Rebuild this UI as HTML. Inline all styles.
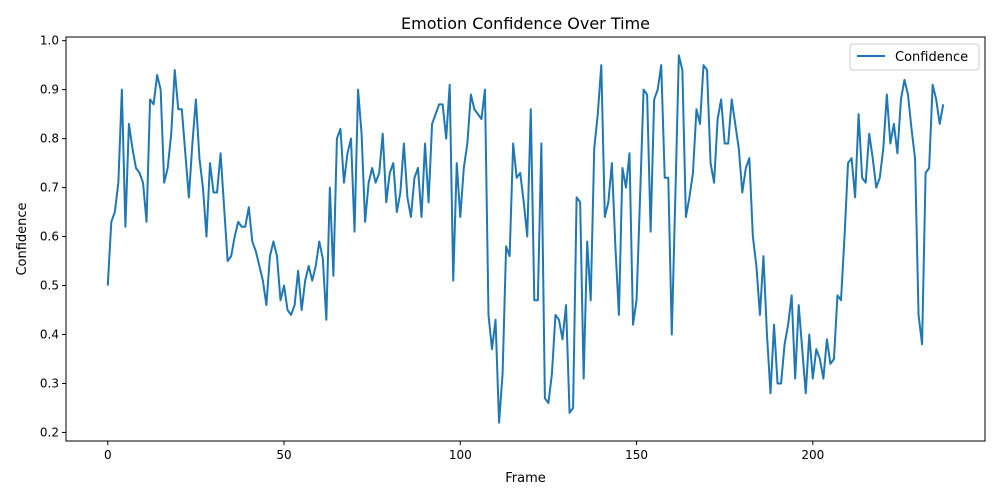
<!DOCTYPE html>
<html><head><meta charset="utf-8"><style>
body{margin:0;background:#fff}
svg{display:block;font-family:"DejaVu Sans","Liberation Sans",sans-serif}
</style></head><body>
<svg id="chart" width="1000" height="500" viewBox="0 0 1000 500">
<rect x="0" y="0" width="1000" height="500" fill="#fff"/>
<text x="525.5" y="29" text-anchor="middle" font-size="16">Emotion Confidence Over Time</text>
<g id="ticks"></g>
<path id="line" fill="none" stroke="#1f77b4" stroke-width="2" stroke-linejoin="round"/>
<rect x="66" y="37" width="919" height="404" fill="none" stroke="#000" stroke-width="1"/>
<text x="525.5" y="482" text-anchor="middle" font-size="13">Frame</text>
<text transform="translate(26,239) rotate(-90)" text-anchor="middle" font-size="13">Confidence</text>
<g>
<rect x="850" y="44" width="129" height="26" rx="3" fill="#fff" stroke="#ccc"/>
<line x1="857" y1="56" x2="885" y2="56" stroke="#1f77b4" stroke-width="2"/>
<text x="895" y="61" font-size="13">Confidence</text>
</g>
</svg>
<script>
const values = [0.50,0.63,0.65,0.71,0.90,0.62,0.83,0.78,0.74,0.73,0.71,0.63,0.88,0.87,0.93,0.90,0.71,0.74,0.81,0.94,
0.86,0.86,0.77,0.68,0.79,0.88,0.76,0.70,0.60,0.75,0.69,0.69,0.77,0.66,0.55,0.56,0.60,0.63,0.62,0.62,
0.66,0.59,0.57,0.54,0.51,0.46,0.56,0.59,0.56,0.47,0.50,0.45,0.44,0.46,0.53,0.45,0.51,0.54,0.51,0.54,
0.59,0.555,0.43,0.70,0.52,0.80,0.82,0.71,0.77,0.80,0.61,0.90,0.81,0.63,0.71,0.74,0.71,0.73,0.81,0.67,
0.73,0.75,0.65,0.69,0.79,0.68,0.64,0.72,0.74,0.64,0.79,0.67,0.83,0.85,0.87,0.87,0.80,0.91,0.51,0.75,
0.64,0.74,0.79,0.89,0.86,0.85,0.84,0.90,0.44,0.37,0.43,0.22,0.32,0.58,0.56,0.79,0.72,0.73,0.67,0.60,
0.86,0.47,0.47,0.79,0.27,0.26,0.32,0.44,0.43,0.39,0.46,0.24,0.25,0.68,0.67,0.31,0.59,0.47,0.78,0.85,
0.95,0.64,0.67,0.75,0.58,0.44,0.74,0.70,0.77,0.42,0.47,0.68,0.90,0.89,0.61,0.88,0.90,0.95,0.72,0.72,
0.40,0.68,0.97,0.94,0.64,0.68,0.73,0.86,0.83,0.95,0.94,0.75,0.71,0.84,0.88,0.79,0.79,0.88,0.83,0.78,
0.69,0.74,0.76,0.60,0.54,0.44,0.56,0.40,0.28,0.42,0.30,0.30,0.38,0.42,0.48,0.31,0.46,0.37,0.28,0.40,
0.31,0.37,0.35,0.31,0.39,0.34,0.35,0.48,0.47,0.60,0.75,0.76,0.68,0.85,0.72,0.71,0.81,0.76,0.70,0.72,
0.78,0.89,0.79,0.83,0.77,0.88,0.92,0.89,0.82,0.76,0.44,0.38,0.73,0.74,0.91,0.88,0.83,0.87];
const xTicks = [0,50,100,150,200];
const yTicks = [0.2,0.3,0.4,0.5,0.6,0.7,0.8,0.9,1.0];
const yTickLabels = ["0.2","0.3","0.4","0.5","0.6","0.7","0.8","0.9","1.0"];

const L=66,R=985,T=37,B=441;
const n=values.length-1;
const xMin=-0.05*n, xMax=n*1.05;
const vMin=Math.min(...values), vMax=Math.max(...values), pad=(vMax-vMin)*0.05;
const yMin=vMin-pad, yMax=vMax+pad;
const xs=v=>L+(v-xMin)/(xMax-xMin)*(R-L);
const ys=v=>B-(v-yMin)/(yMax-yMin)*(B-T);
const NS="http://www.w3.org/2000/svg";
const g=document.getElementById('ticks');
function mk(tag,attrs){const e=document.createElementNS(NS,tag);for(const k in attrs)e.setAttribute(k,attrs[k]);g.appendChild(e);return e;}
xTicks.forEach(t=>{
  const x=xs(t);
  const l=mk('line',{x1:x,x2:x,y1:B,y2:B+4,stroke:'#000'});
  
  
  const tx=mk('text',{x:x,y:B+18,'text-anchor':'middle','font-size':12});
  
  
  tx.textContent=t;
});
yTicks.forEach((t,i)=>{
  const y=ys(t);
  const l=mk('line',{x1:L-4,x2:L,y1:y,y2:y,stroke:'#000'});
  
  
  const tx=mk('text',{x:L-7,y:y+4,'text-anchor':'end','font-size':12});
  
  
  tx.textContent=yTickLabels[i];
});
document.getElementById('line').setAttribute('d',values.map((v,i)=>(i?'L':'M')+xs(i).toFixed(2)+','+ys(v).toFixed(2)).join(''));
</script>
</body></html>
